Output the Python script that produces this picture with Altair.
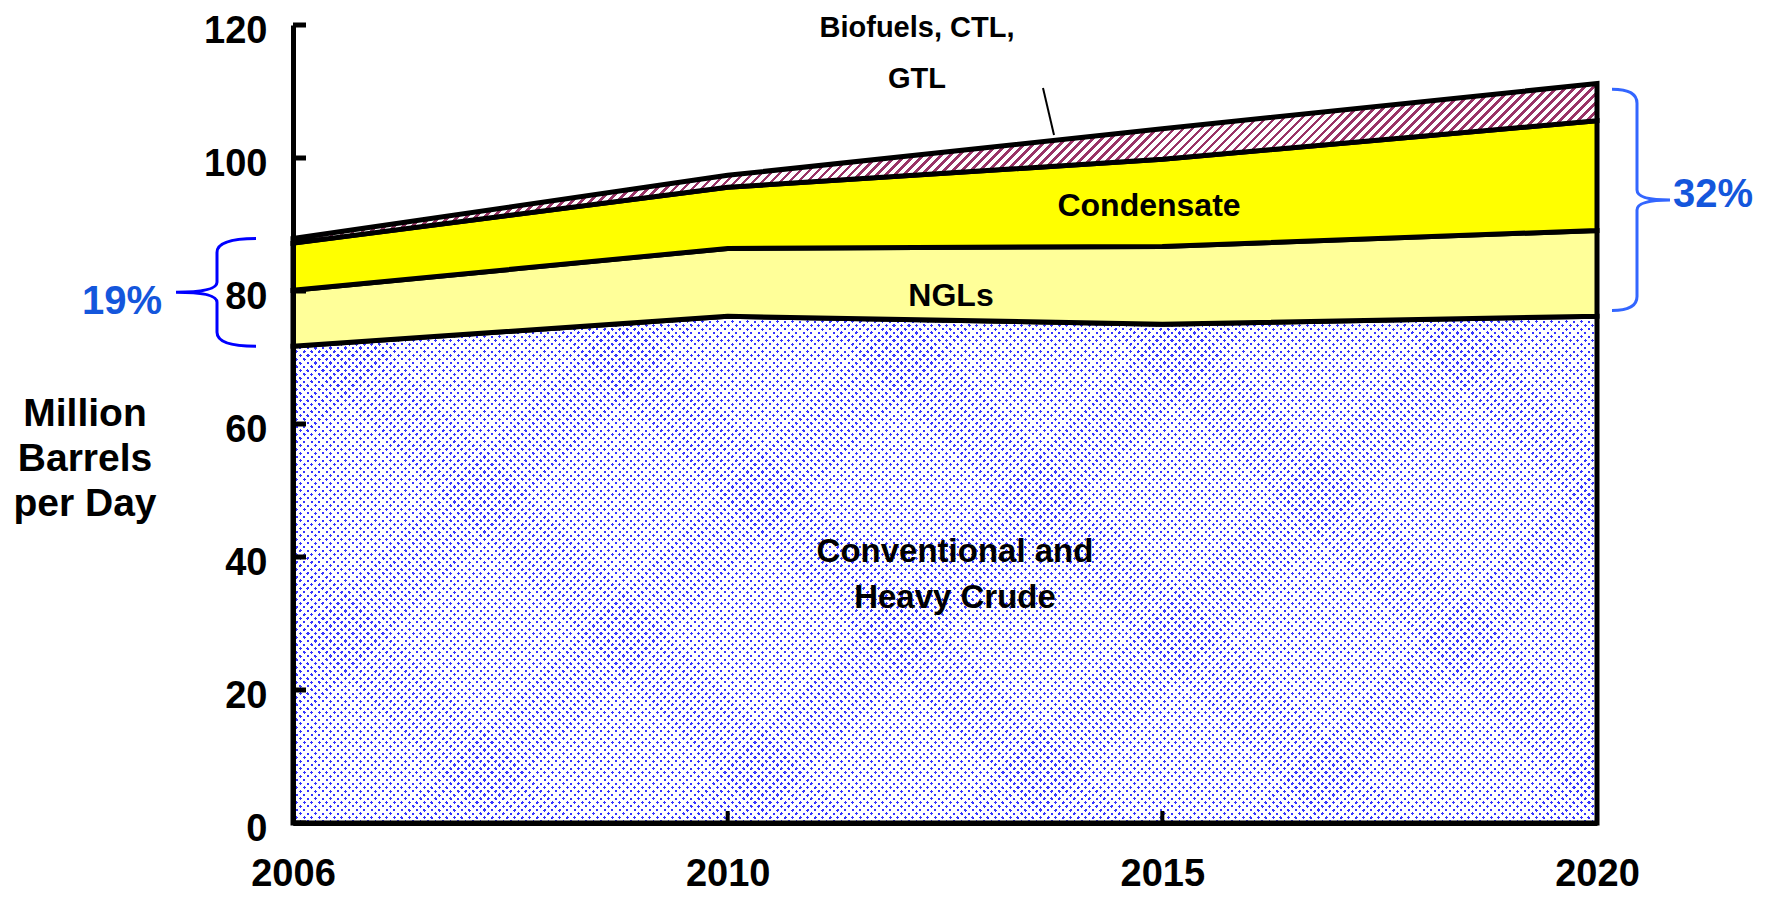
import altair as alt
import pandas as pd

# ---------------- data ----------------
years = ["2006", "2010", "2015", "2020"]
crude = [71.7, 76.2, 75.0, 76.2]          # Conventional and Heavy Crude
ngls = [8.4, 10.2, 11.7, 12.9]            # NGLs
condensate = [7.1, 9.2, 13.1, 16.5]       # Condensate
biofuels = [0.7, 1.8, 4.6, 5.6]           # Biofuels, CTL, GTL
y_ticks = [0, 20, 40, 60, 80, 100, 120]
inner_x_ticks = ["2010", "2015"]

label_crude = ["Conventional and", "Heavy Crude"]
label_ngl = "NGLs"
label_cond = "Condensate"
label_bio = ["Biofuels, CTL,", "GTL"]
y_title = ["Million", "Barrels", "per Day"]
pct_left = "19%"
pct_right = "32%"

# ---------------- layout ----------------
FONT = "Liberation Sans"
W, H = 1304, 798
YMAX = 120
ppu = H / YMAX

t1 = crude
t2 = [a + b for a, b in zip(t1, ngls)]
t3 = [a + b for a, b in zip(t2, condensate)]
t4 = [a + b for a, b in zip(t3, biofuels)]
df = pd.DataFrame({"year": years, "b0": [0] * len(years),
                   "t1": t1, "t2": t2, "t3": t3, "t4": t4})


def stripe_gradient(bbox_h, pitch, frac, color_a, color_b, direction):
    r = bbox_h / W
    s = (1 + r) / (1 + r * r)
    n = int(round((1 + r) * W / pitch))
    stops = []
    for i in range(n):
        o0 = round(i / n, 6)
        o1 = round((i + frac) / n, 6)
        o2 = round((i + 1) / n, 6)
        stops += [{"offset": o0, "color": color_a}, {"offset": o1, "color": color_a},
                  {"offset": o1, "color": color_b}, {"offset": o2, "color": color_b}]
    if direction == "/":
        x1, y1, x2, y2 = 0, 0, s, s * r
    else:
        x1, y1, x2, y2 = 0, 1, s, 1 - s * r
    return {"gradient": "linear", "x1": x1, "y1": y1, "x2": x2, "y2": y2, "stops": stops}


CLEAR = "rgba(255,255,255,0)"
h_crude = max(t1) * ppu
mask1 = stripe_gradient(h_crude, 7.5, 0.42, CLEAR, "#ffffff", "/")
mask2 = stripe_gradient(h_crude, 7.5, 0.42, CLEAR, "#ffffff", "\\")
h_bio = (max(t4) - min(t3)) * ppu
hatch = stripe_gradient(h_bio, 9, 0.4, "#993366", "#ffffff", "/")

xaxis = alt.Axis(title="", labelAngle=0, ticks=False, domain=True, domainColor="black",
                 domainWidth=5, labelFont=FONT, labelFontSize=38, labelFontWeight="bold",
                 labelColor="black", labelPadding=32, grid=False, zindex=1)
yaxis = alt.Axis(title="", values=y_ticks, ticks=False, domain=True, domainColor="black",
                 domainWidth=5, labelFont=FONT, labelFontSize=38, labelFontWeight="bold",
                 labelColor="black", labelPadding=26, labelOffset=6, grid=False, zindex=1)
xscale = alt.Scale(type="point", domain=years, padding=0)
yscale = alt.Scale(domain=[0, YMAX], nice=False)

base = alt.Chart(df)
X = alt.X("year:O", scale=xscale, axis=xaxis)


def area(top, bottom, **kw):
    return base.mark_area(**kw).encode(
        x=X, y=alt.Y(f"{top}:Q", scale=yscale, axis=yaxis), y2=f"{bottom}:Q")


crude_base = area("t1", "b0", color="#3434ff")
crude_m1 = area("t1", "b0", fill=mask1)
crude_m2 = area("t1", "b0", fill=mask2)
crude_out = area("t1", "b0", fill="#ffffff", fillOpacity=0, stroke="black", strokeWidth=5)
ngl_area = area("t2", "t1", fill="#ffff99", stroke="black", strokeWidth=5)
cond_area = area("t3", "t2", fill="#ffff00", stroke="black", strokeWidth=5)
bio_area = area("t4", "t3", fill=hatch, stroke="black", strokeWidth=5)

# inward ticks
yt = alt.Chart(pd.DataFrame({"v": y_ticks})).mark_rule(color="black", strokeWidth=5).encode(
    y=alt.Y("v:Q", scale=yscale, axis=yaxis), x=alt.value(0), x2=alt.value(13))
xt = alt.Chart(pd.DataFrame({"year": inner_x_ticks})).mark_rule(color="black", strokeWidth=4).encode(
    x=X, y=alt.value(H - 12), y2=alt.value(H))

one = pd.DataFrame({"a": [0]})


def text(t, x, y, size, color="black", align="center", lh=None):
    kw = dict(font=FONT, fontSize=size, fontWeight="bold", color=color, align=align,
              baseline="middle")
    if lh is not None:
        kw["lineHeight"] = lh
    return alt.Chart(one).mark_text(**kw).encode(x=alt.value(x), y=alt.value(y), text=alt.value(t))


texts = [
    text(label_bio, 624, 3, 29, lh=51),
    text(label_cond, 856, 181, 32),
    text(label_ngl, 658, 271, 32),
    text(label_crude, 662, 527, 33, lh=46),
    text(y_title, -208, 389, 39, lh=45),
    text(pct_left, -171, 277, 40, color="#1456dc"),
    text(pct_right, 1460, 170, 40, color="#1456dc", align="right"),
]

leader = alt.Chart(one).mark_rule(color="black", strokeWidth=2).encode(
    x=alt.value(750), y=alt.value(63), x2=alt.value(761), y2=alt.value(110))


def brace_path(h, arm, tip, corner=14, neck=10):
    f = lambda v: f"{v / h:.4f}"
    return (f"M{f(arm)},{f(-h)} Q0,{f(-h)} 0,{f(-h + corner)} L0,{f(-neck)} Q0,0 {f(tip)},0 "
            f"Q0,0 0,{f(neck)} L0,{f(h - corner)} Q0,{f(h)} {f(arm)},{f(h)}")


def brace(i, xpix, arm, tip, color, shrink=1.0):
    h = (t4[i] - t1[i]) / 2 * ppu * shrink
    mid = (t4[i] + t1[i]) / 2
    return alt.Chart(pd.DataFrame({"mid": [mid]})).mark_point(
        shape=brace_path(h, arm, tip), size=4 * h * h, filled=False, stroke=color,
        strokeWidth=3, opacity=1).encode(
        x=alt.value(xpix), y=alt.Y("mid:Q", scale=yscale, axis=yaxis))


brace_left = brace(0, -76, 39, -41, "#0000ff")
brace_right = brace(len(years) - 1, 1344, -25, 33, "#3366ff", shrink=0.95)

chart = alt.layer(
    crude_base, crude_m1, crude_m2, crude_out, ngl_area, cond_area, bio_area,
    yt, xt, leader, brace_left, brace_right, *texts
).properties(
    width=W, height=H,
    autosize=alt.AutoSizeParams(type="none"),
    padding={"left": 285, "top": 17, "right": 158, "bottom": 71},
    background="white",
).configure_view(strokeWidth=0)

chart.save("out.html", embed_options={"renderer": "svg", "actions": False})
